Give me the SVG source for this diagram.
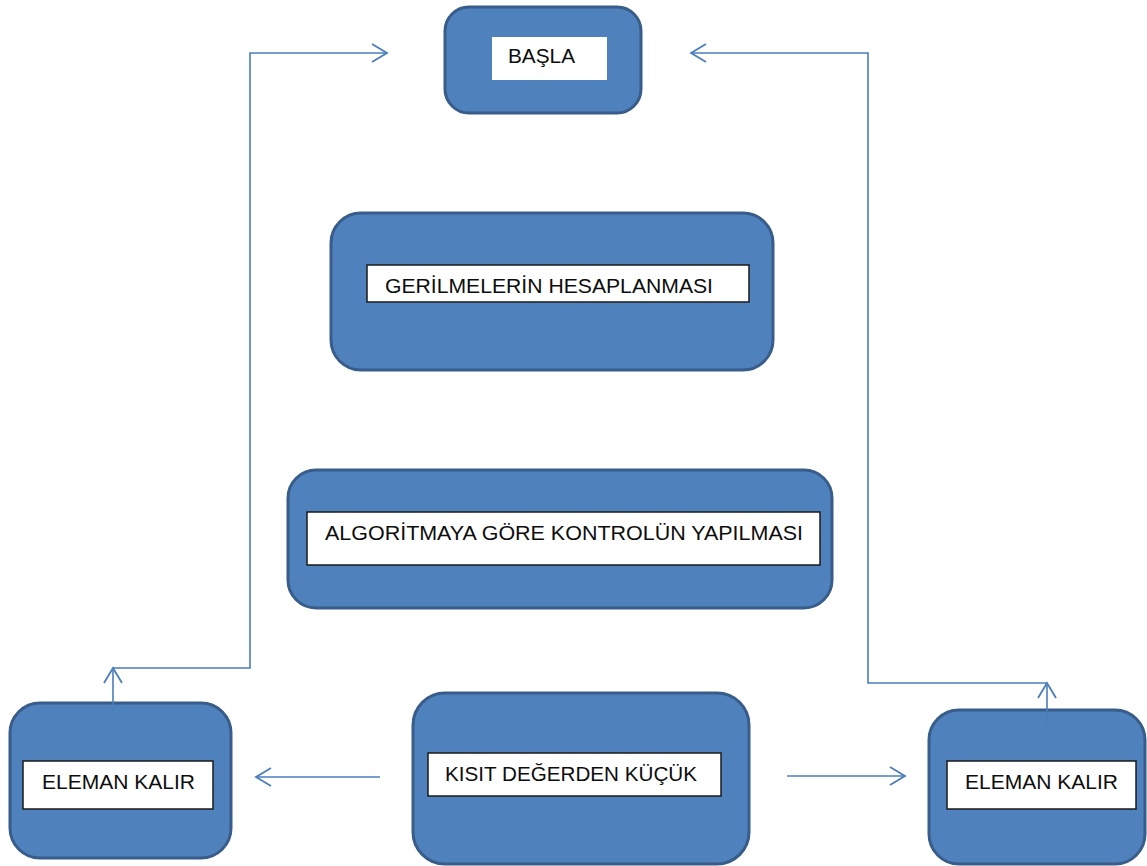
<svg xmlns="http://www.w3.org/2000/svg" width="1147" height="866" viewBox="0 0 1147 866">
  <style>
    .box { fill: #4f81bd; stroke: #385d8a; stroke-width: 3; }
    .label { fill: #ffffff; stroke: #1a1a1a; stroke-width: 1.5; }
    .label-plain { fill: #ffffff; stroke: none; }
    .txt { font-family: "Liberation Sans", Arial, sans-serif; font-size: 21px; fill: #0d0d0d; }
    .wire { fill: none; stroke: #4a7ebb; stroke-width: 1.6; }
  </style>
  <defs>
    <marker id="chevron" markerUnits="userSpaceOnUse" markerWidth="20" markerHeight="24" refX="16" refY="10" orient="auto" viewBox="0 0 20 20">
      <path d="M1,1 L16,10 L1,19" fill="none" stroke="#4a7ebb" stroke-width="1.8"/>
    </marker>
  </defs>

  <g id="start">
    <rect class="box" x="445" y="7" width="196" height="106" rx="24"/>
    <rect class="label-plain" x="492" y="37" width="115" height="43"/>
    <text class="txt" x="508" y="63" textLength="67" lengthAdjust="spacingAndGlyphs">BAŞLA</text>
  </g>

  <g id="stress-calc">
    <rect class="box" x="331" y="213" width="442" height="157" rx="30"/>
    <rect class="label" x="367" y="265" width="382" height="37"/>
    <text class="txt" x="385" y="293" textLength="328" lengthAdjust="spacingAndGlyphs">GERİLMELERİN HESAPLANMASI</text>
  </g>

  <g id="algorithm-check">
    <rect class="box" x="288" y="470" width="544" height="138" rx="28"/>
    <rect class="label" x="307" y="512" width="513" height="53"/>
    <text class="txt" x="325" y="540" textLength="478" lengthAdjust="spacingAndGlyphs">ALGORİTMAYA GÖRE KONTROLÜN YAPILMASI</text>
  </g>

  <g id="below-limit">
    <rect class="box" x="413" y="693" width="336" height="171" rx="32"/>
    <rect class="label" x="428" y="753" width="293" height="43"/>
    <text class="txt" x="445" y="781" textLength="252" lengthAdjust="spacingAndGlyphs">KISIT DEĞERDEN KÜÇÜK</text>
  </g>

  <g id="element-stays-left">
    <rect class="box" x="10" y="703" width="221" height="155" rx="30"/>
    <rect class="label" x="23" y="761" width="190" height="48"/>
    <text class="txt" x="42" y="789" textLength="153" lengthAdjust="spacingAndGlyphs">ELEMAN KALIR</text>
  </g>

  <g id="element-stays-right">
    <rect class="box" x="929" y="710" width="216" height="154" rx="30"/>
    <rect class="label" x="947" y="761" width="189" height="48"/>
    <text class="txt" x="965" y="789" textLength="153" lengthAdjust="spacingAndGlyphs">ELEMAN KALIR</text>
  </g>

  <g id="connectors">
    <path class="wire" d="M380,777 H256" marker-end="url(#chevron)"/>
    <path class="wire" d="M787,776 H905" marker-end="url(#chevron)"/>
    <path class="wire" d="M113,713 V668" marker-end="url(#chevron)"/>
    <path class="wire" d="M113,668 H250 V53 H387" marker-end="url(#chevron)"/>
    <path class="wire" d="M1047,725 V683" marker-end="url(#chevron)"/>
    <path class="wire" d="M1047,683 H868 V53 H691" marker-end="url(#chevron)"/>
  </g>
</svg>
